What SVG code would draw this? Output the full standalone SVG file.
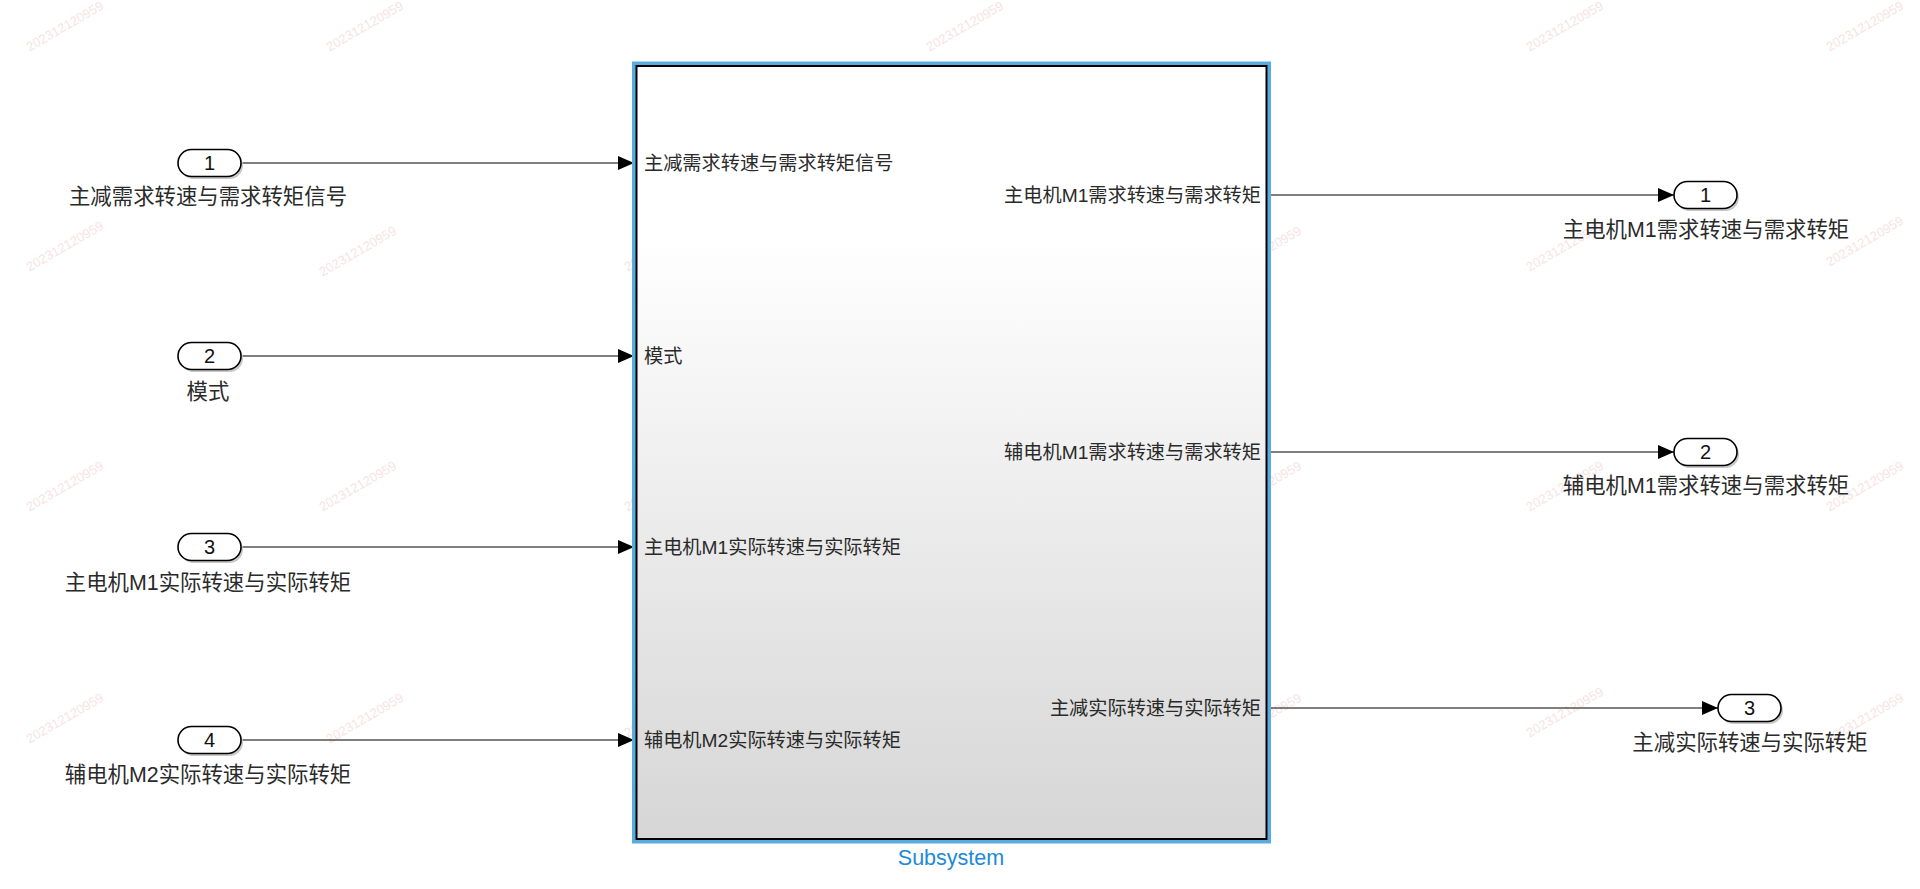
<svg xmlns="http://www.w3.org/2000/svg" width="1920" height="889" viewBox="0 0 1920 889">
<style>
.lbl{font-family:"Liberation Sans","Noto Sans CJK SC",sans-serif;font-size:21.4px;fill:#2a2a2a}
.in{font-family:"Liberation Sans","Noto Sans CJK SC",sans-serif;font-size:19.2px;fill:#2a2a2a}
.num{font-family:"Liberation Sans",sans-serif;font-size:20px;fill:#111;text-anchor:middle}
.port{fill:#fff;stroke:#000;stroke-width:1.6}
.shadow{fill:#c8c8c8;stroke:none}
.wire{stroke:#000;stroke-width:1.2;fill:none}
.wm{font-family:"Liberation Sans",sans-serif;font-size:13px;fill:#e8b0b0;opacity:0.35;text-anchor:middle}
</style>
<defs>
<marker id="arr" markerUnits="userSpaceOnUse" markerWidth="16" markerHeight="14" refX="16" refY="7" orient="auto">
<path d="M0,0 L16,7 L0,14 z" fill="#000"/>
</marker>
<linearGradient id="bg" x1="0" y1="0" x2="0" y2="1">
<stop offset="0" stop-color="#ffffff"/>
<stop offset="0.22" stop-color="#ffffff"/>
<stop offset="1" stop-color="#d6d6d6"/>
</linearGradient>
</defs>
<rect width="1920" height="889" fill="#fff"/>
<g id="watermarks">
<text class="wm" transform="translate(67,30) rotate(-30)">202312120959</text>
<text class="wm" transform="translate(367,30) rotate(-30)">202312120959</text>
<text class="wm" transform="translate(967,30) rotate(-30)">202312120959</text>
<text class="wm" transform="translate(1567,30) rotate(-30)">202312120959</text>
<text class="wm" transform="translate(1867,30) rotate(-30)">202312120959</text>
<text class="wm" transform="translate(67,250) rotate(-30)">202312120959</text>
<text class="wm" transform="translate(360,255) rotate(-30)">202312120959</text>
<text class="wm" transform="translate(665,250) rotate(-30)">202312120959</text>
<text class="wm" transform="translate(967,240) rotate(-30)">202312120959</text>
<text class="wm" transform="translate(1265,255) rotate(-30)">202312120959</text>
<text class="wm" transform="translate(1567,250) rotate(-30)">202312120959</text>
<text class="wm" transform="translate(1867,245) rotate(-30)">202312120959</text>
<text class="wm" transform="translate(67,490) rotate(-30)">202312120959</text>
<text class="wm" transform="translate(360,490) rotate(-30)">202312120959</text>
<text class="wm" transform="translate(665,490) rotate(-30)">202312120959</text>
<text class="wm" transform="translate(962,480) rotate(-30)">202312120959</text>
<text class="wm" transform="translate(1265,490) rotate(-30)">202312120959</text>
<text class="wm" transform="translate(1567,490) rotate(-30)">202312120959</text>
<text class="wm" transform="translate(1867,490) rotate(-30)">202312120959</text>
<text class="wm" transform="translate(67,722) rotate(-30)">202312120959</text>
<text class="wm" transform="translate(367,722) rotate(-30)">202312120959</text>
<text class="wm" transform="translate(665,716) rotate(-30)">202312120959</text>
<text class="wm" transform="translate(967,722) rotate(-30)">202312120959</text>
<text class="wm" transform="translate(1265,722) rotate(-30)">202312120959</text>
<text class="wm" transform="translate(1567,716) rotate(-30)">202312120959</text>
<text class="wm" transform="translate(1867,722) rotate(-30)">202312120959</text>
</g>
<g id="connectors">
<line class="wire" x1="241" y1="163" x2="634" y2="163" marker-end="url(#arr)"/>
<line class="wire" x1="241" y1="356" x2="634" y2="356" marker-end="url(#arr)"/>
<line class="wire" x1="241" y1="547" x2="634" y2="547" marker-end="url(#arr)"/>
<line class="wire" x1="241" y1="740" x2="634" y2="740" marker-end="url(#arr)"/>
<line class="wire" x1="1269" y1="195" x2="1674" y2="195" marker-end="url(#arr)"/>
<line class="wire" x1="1269" y1="452" x2="1674" y2="452" marker-end="url(#arr)"/>
<line class="wire" x1="1269" y1="708" x2="1718" y2="708" marker-end="url(#arr)"/>
</g>
<g id="subsystem">
<rect x="634" y="63.5" width="635" height="778" fill="none" stroke="#5aacdf" stroke-width="4"/>
<rect x="636.5" y="66" width="630" height="773" fill="url(#bg)" stroke="#000" stroke-width="2"/>
<text class="in" x="644" y="169.8">主减需求转速与需求转矩信号</text>
<text class="in" x="644" y="362.8">模式</text>
<text class="in" x="644" y="553.8">主电机M1实际转速与实际转矩</text>
<text class="in" x="644" y="746.8">辅电机M2实际转速与实际转矩</text>
<text class="in" x="1261" y="201.8" text-anchor="end">主电机M1需求转速与需求转矩</text>
<text class="in" x="1261" y="458.8" text-anchor="end">辅电机M1需求转速与需求转矩</text>
<text class="in" x="1261" y="714.8" text-anchor="end">主减实际转速与实际转矩</text>
<text x="951" y="865" text-anchor="middle" font-family="Liberation Sans, sans-serif" font-size="21.5" fill="#1e8ad6">Subsystem</text>
</g>
<g id="in1">
<rect class="shadow" x="180" y="152" width="63" height="27" rx="13.5"/>
<rect class="port" x="178" y="149.5" width="63" height="27" rx="13.5"/>
<text class="num" x="209.5" y="170">1</text>
<text class="lbl" x="208" y="203.5" text-anchor="middle">主减需求转速与需求转矩信号</text>
</g>
<g id="in2">
<rect class="shadow" x="180" y="345" width="63" height="27" rx="13.5"/>
<rect class="port" x="178" y="342.5" width="63" height="27" rx="13.5"/>
<text class="num" x="209.5" y="363">2</text>
<text class="lbl" x="208" y="398.5" text-anchor="middle">模式</text>
</g>
<g id="in3">
<rect class="shadow" x="180" y="536" width="63" height="27" rx="13.5"/>
<rect class="port" x="178" y="533.5" width="63" height="27" rx="13.5"/>
<text class="num" x="209.5" y="554">3</text>
<text class="lbl" x="208" y="589.5" text-anchor="middle">主电机M1实际转速与实际转矩</text>
</g>
<g id="in4">
<rect class="shadow" x="180" y="729" width="63" height="27" rx="13.5"/>
<rect class="port" x="178" y="726.5" width="63" height="27" rx="13.5"/>
<text class="num" x="209.5" y="747">4</text>
<text class="lbl" x="208" y="781.5" text-anchor="middle">辅电机M2实际转速与实际转矩</text>
</g>
<g id="out1">
<rect class="shadow" x="1676" y="184" width="63" height="27" rx="13.5"/>
<rect class="port" x="1674" y="181.5" width="63" height="27" rx="13.5"/>
<text class="num" x="1705.5" y="202">1</text>
<text class="lbl" x="1706" y="236.5" text-anchor="middle">主电机M1需求转速与需求转矩</text>
</g>
<g id="out2">
<rect class="shadow" x="1676" y="441" width="63" height="27" rx="13.5"/>
<rect class="port" x="1674" y="438.5" width="63" height="27" rx="13.5"/>
<text class="num" x="1705.5" y="459">2</text>
<text class="lbl" x="1706" y="492.5" text-anchor="middle">辅电机M1需求转速与需求转矩</text>
</g>
<g id="out3">
<rect class="shadow" x="1720" y="697" width="63" height="27" rx="13.5"/>
<rect class="port" x="1718" y="694.5" width="63" height="27" rx="13.5"/>
<text class="num" x="1749.5" y="715">3</text>
<text class="lbl" x="1750" y="749.5" text-anchor="middle">主减实际转速与实际转矩</text>
</g>
</svg>
